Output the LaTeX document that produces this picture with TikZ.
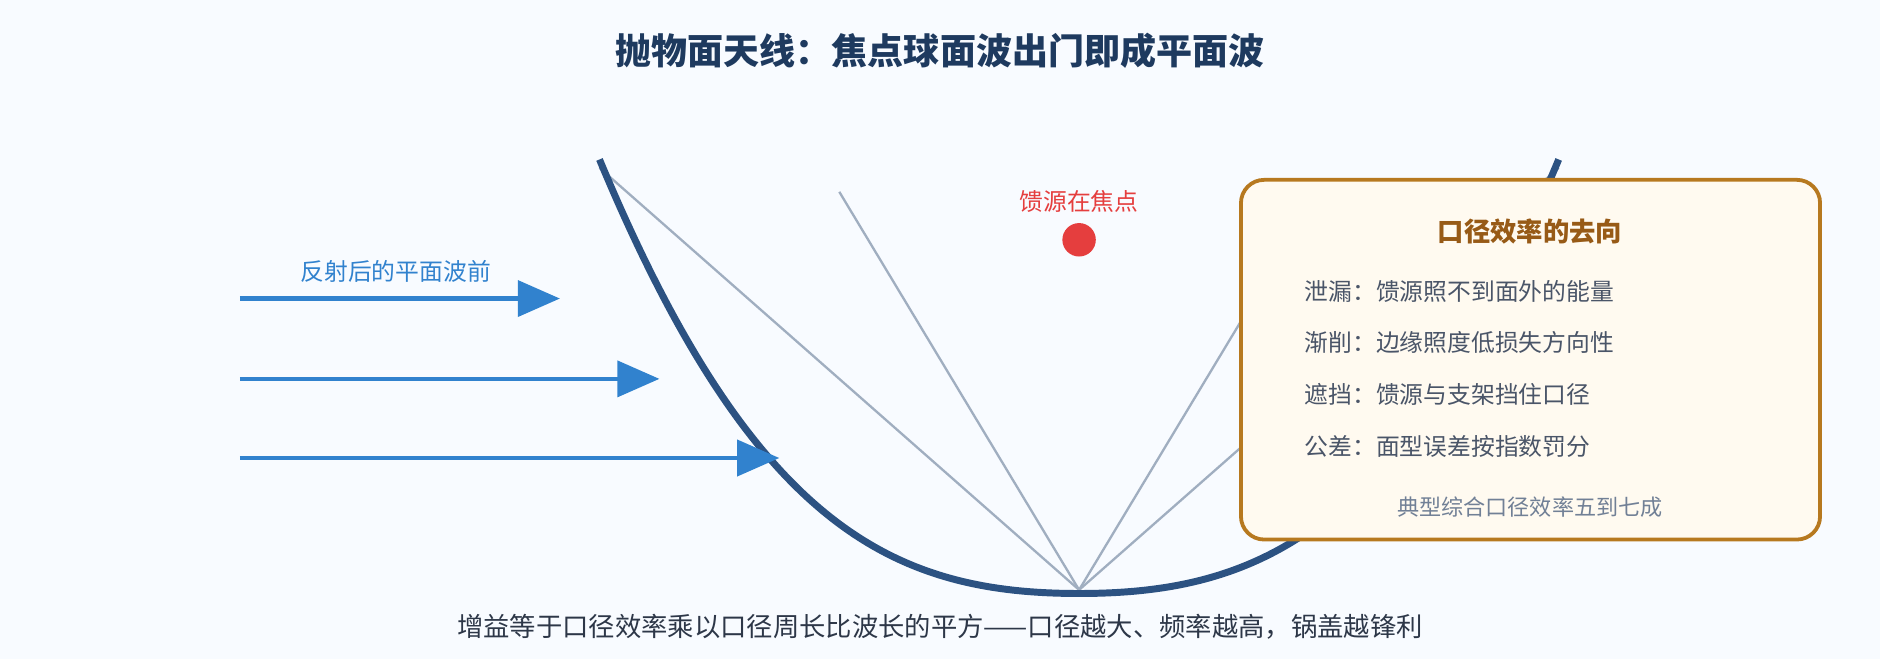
\documentclass[tikz,border=0pt]{standalone}
\usepackage{fontspec}
\setmainfont{Noto Sans CJK SC}
\usetikzlibrary{arrows.meta}
\definecolor{bg}{HTML}{F8FBFF}
\definecolor{navy}{HTML}{1E3A5F}
\definecolor{dish}{HTML}{2C5282}
\definecolor{ray}{HTML}{A0AEC0}
\definecolor{feed}{HTML}{E53E3E}
\definecolor{wave}{HTML}{3182CE}
\definecolor{boxfill}{HTML}{FFFAF0}
\definecolor{boxdraw}{HTML}{B7791F}
\definecolor{boxtitle}{HTML}{975A16}
\definecolor{item}{HTML}{4A5568}
\definecolor{foot}{HTML}{718096}
\definecolor{bottom}{HTML}{2D3748}
\begin{document}
\begin{tikzpicture}[x=0.02cm,y=-0.02cm,
  rayl/.style={ray,line width=1.1pt},
  wavea/.style={wave,line width=2.1pt,-{Triangle[length=20pt,width=17pt]}},
  itemt/.style={item,font=\fontsize{11.3}{13}\selectfont,anchor=west}]
\fill[bg] (0,0) rectangle (1568,550);
\useasboundingbox (0,0) rectangle (1568,550);
\node[navy,font=\fontsize{17.1}{20}\selectfont\bfseries] (title) at (784,42) {抛物面天线：焦点球面波出门即成平面波};
\coordinate (v) at (900,492);
\coordinate (r1) at (500,140); \coordinate (r2) at (700,160);
\coordinate (r3) at (1100,160); \coordinate (r4) at (1300,140);
\foreach \r in {r1,r2,r3,r4} \draw[rayl] (v) -- (\r);
\coordinate (dl) at (500,133); \coordinate (dr) at (1300,133); \coordinate (dv) at (900,495);
\draw[dish,line width=3.3pt] (dl) .. controls (628,440) and (745,495) .. (dv)
  .. controls (1055,495) and (1172,440) .. (dr);
\node[circle,fill=feed,minimum size=28*0.567pt,inner sep=0] (f) at (900,200) {};
\node[feed,font=\fontsize{11.3}{13}\selectfont] (fl) at (900,168) {馈源在焦点};
\node[wave,font=\fontsize{11.3}{13}\selectfont] (wl) at (330,226) {反射后的平面波前};
\coordinate (a1) at (200,249); \coordinate (b1) at (467,249);
\coordinate (a2) at (200,316); \coordinate (b2) at (550,316);
\coordinate (a3) at (200,382); \coordinate (b3) at (650,382);
\draw[wavea] (a1) -- (b1);
\draw[wavea] (a2) -- (b2);
\draw[wavea] (a3) -- (b3);
\draw[boxdraw,fill=boxfill,line width=1.8pt,rounded corners=11pt] (1035,150) rectangle (1518,450);
\node[boxtitle,font=\fontsize{12.5}{15}\selectfont\bfseries] (bt) at (1276,193) {口径效率的去向};
\node[itemt] (i1) at (1082,243) {泄漏：馈源照不到面外的能量};
\node[itemt] (i2) at (1082,286) {渐削：边缘照度低损失方向性};
\node[itemt] (i3) at (1082,329) {遮挡：馈源与支架挡住口径};
\node[itemt] (i4) at (1082,372) {公差：面型误差按指数罚分};
\node[foot,font=\fontsize{10.5}{13}\selectfont] (ft) at (1276,423) {典型综合口径效率五到七成};
\node[bottom,font=\fontsize{12.5}{15}\selectfont] (bl) at (784,523) {增益等于口径效率乘以口径周长比波长的平方——口径越大、频率越高，锅盖越锋利};
\end{tikzpicture}
\end{document}
